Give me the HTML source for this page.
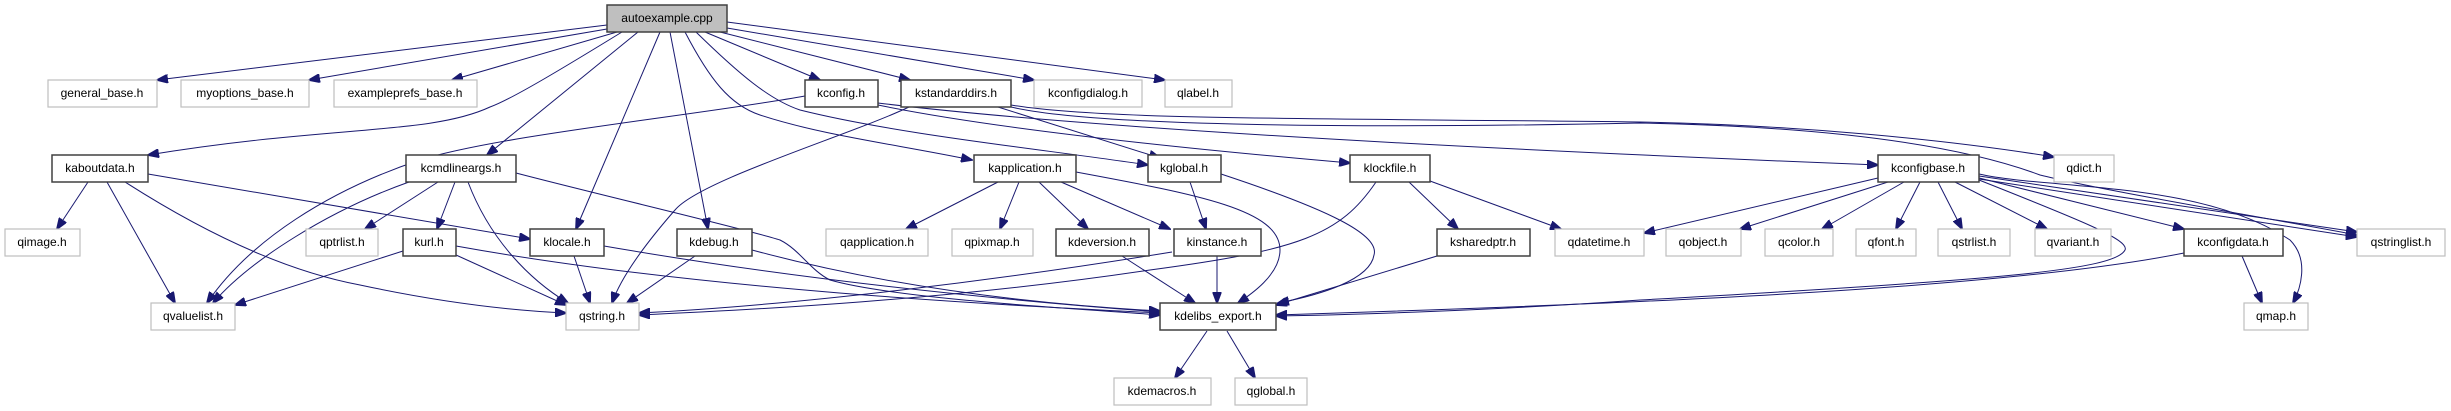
<!DOCTYPE html>
<html><head><meta charset="utf-8"><style>
html,body{margin:0;padding:0;background:#fff;}
svg{display:block;}
text{font-family:"Liberation Sans",Arial,sans-serif;font-size:12px;fill:#000;}
.b{fill:#fff;stroke:#404040;stroke-width:1.5;}
.l{fill:#fff;stroke:#bfbfbf;stroke-width:1.2;}
.e{fill:none;stroke:#191970;stroke-width:1;}
</style></head><body>
<svg width="2451" height="411" viewBox="0 0 2451 411" xmlns="http://www.w3.org/2000/svg">
<defs><marker id="a" markerWidth="12" markerHeight="9" refX="11" refY="4.5" orient="auto" markerUnits="userSpaceOnUse"><path d="M0,0 L12,4.5 L0,9 z" fill="#191970" stroke="#191970"/></marker></defs>
<g class="e" marker-end="url(#a)">
<path d="M607,25 L157,80"/>
<path d="M607,29 L309,80"/>
<path d="M617,32 L452,80"/>
<path d="M622,32 C560,70 510,100 490,107 C430,135 330,125 148,155"/>
<path d="M638,32 L487,155"/>
<path d="M660,32 L576,229"/>
<path d="M670,32 L708,229"/>
<path d="M685,32 C710,80 730,105 760,115 C820,135 900,145 972,160"/>
<path d="M696,32 C740,75 770,100 800,110 C900,135 1050,150 1148,165"/>
<path d="M705,32 L820,80"/>
<path d="M720,32 L910,80"/>
<path d="M727,28 L1034,80"/>
<path d="M727,22 L1165,80"/>
<path d="M805,96 C700,115 500,135 420,160 C330,190 250,240 207,303"/>
<path d="M878,105 C1000,130 1200,150 1350,163"/>
<path d="M878,103 C1100,130 1500,150 1878,165"/>
<path d="M1011,105 C1100,120 1300,118 1640,122 C1800,125 1950,140 2054,157"/>
<path d="M1011,107 C1100,128 1400,128 1640,123 C1900,128 2000,160 2040,175 C2100,190 2250,215 2357,235"/>
<path d="M998,107 L1160,158"/>
<path d="M909,107 C850,135 700,180 675,210 C640,250 620,280 612,303"/>
<path d="M88,182 L57,229"/>
<path d="M107,182 L175,303"/>
<path d="M125,182 C200,230 280,270 360,285 C430,300 500,310 566,313"/>
<path d="M148,174 L530,239"/>
<path d="M409,182 C330,210 250,260 213,303"/>
<path d="M438,182 L365,229"/>
<path d="M455,182 L437,229"/>
<path d="M468,182 C490,240 530,280 568,303"/>
<path d="M516,173 C600,195 750,230 780,240 C800,250 810,270 830,280 C900,300 1100,310 1160,315"/>
<path d="M403,251 L235,305"/>
<path d="M456,255 L566,305"/>
<path d="M456,246 C700,290 1000,305 1160,313"/>
<path d="M574,256 L590,303"/>
<path d="M604,246 C800,280 1000,300 1160,312"/>
<path d="M695,256 L627,303"/>
<path d="M752,250 C900,290 1050,305 1160,311"/>
<path d="M998,182 L906,229"/>
<path d="M1019,182 L1000,229"/>
<path d="M1039,182 L1088,229"/>
<path d="M1061,182 L1170,229"/>
<path d="M1076,172 C1200,195 1280,210 1280,250 C1280,275 1250,295 1238,303"/>
<path d="M1190,182 L1206,229"/>
<path d="M1221,174 C1330,210 1380,235 1374,255 C1370,280 1320,295 1278,303"/>
<path d="M1376,182 C1340,235 1300,250 1150,270 C950,300 750,310 639,315"/>
<path d="M1409,182 L1458,229"/>
<path d="M1430,181 L1561,229"/>
<path d="M1172,252 C1000,280 800,305 639,313"/>
<path d="M1217,256 L1217,303"/>
<path d="M1122,256 L1195,303"/>
<path d="M1437,256 L1276,305"/>
<path d="M1207,331 L1175,378"/>
<path d="M1227,331 L1255,378"/>
<path d="M1878,178 L1644,233"/>
<path d="M1888,182 L1740,229"/>
<path d="M1904,182 L1822,229"/>
<path d="M1920,182 L1896,229"/>
<path d="M1938,182 L1962,229"/>
<path d="M1955,182 L2047,229"/>
<path d="M1979,178 L2184,229"/>
<path d="M1979,176 L2357,232"/>
<path d="M1979,179 L2357,237"/>
<path d="M1979,174 C2050,190 2200,180 2290,240 C2310,260 2300,290 2293,303"/>
<path d="M1979,180 C2080,220 2130,240 2125,250 C2115,270 2000,280 1640,300 C1500,310 1350,315 1276,316"/>
<path d="M2184,253 C2000,290 1600,305 1276,315"/>
<path d="M2242,256 L2262,303"/>
</g>
<g>
<rect x="607" y="5" width="120" height="27" fill="#bfbfbf" stroke="#404040" stroke-width="1.5"/><text x="667" y="22" text-anchor="middle">autoexample.cpp</text>
<rect class="l" x="48" y="80" width="109" height="27"/><text x="102" y="97" text-anchor="middle">general_base.h</text>
<rect class="l" x="181" y="80" width="128" height="27"/><text x="245" y="97" text-anchor="middle">myoptions_base.h</text>
<rect class="l" x="334" y="80" width="143" height="27"/><text x="405" y="97" text-anchor="middle">exampleprefs_base.h</text>
<rect class="b" x="805" y="80" width="73" height="27"/><text x="841" y="97" text-anchor="middle">kconfig.h</text>
<rect class="b" x="901" y="80" width="110" height="27"/><text x="956" y="97" text-anchor="middle">kstandarddirs.h</text>
<rect class="l" x="1034" y="80" width="108" height="27"/><text x="1088" y="97" text-anchor="middle">kconfigdialog.h</text>
<rect class="l" x="1165" y="80" width="67" height="27"/><text x="1198" y="97" text-anchor="middle">qlabel.h</text>
<rect class="b" x="52" y="155" width="96" height="27"/><text x="100" y="172" text-anchor="middle">kaboutdata.h</text>
<rect class="b" x="406" y="155" width="110" height="27"/><text x="461" y="172" text-anchor="middle">kcmdlineargs.h</text>
<rect class="b" x="974" y="155" width="102" height="27"/><text x="1025" y="172" text-anchor="middle">kapplication.h</text>
<rect class="b" x="1148" y="155" width="73" height="27"/><text x="1184" y="172" text-anchor="middle">kglobal.h</text>
<rect class="b" x="1350" y="155" width="80" height="27"/><text x="1390" y="172" text-anchor="middle">klockfile.h</text>
<rect class="b" x="1878" y="155" width="101" height="27"/><text x="1928" y="172" text-anchor="middle">kconfigbase.h</text>
<rect class="l" x="2054" y="155" width="60" height="27"/><text x="2084" y="172" text-anchor="middle">qdict.h</text>
<rect class="l" x="5" y="229" width="75" height="27"/><text x="42" y="246" text-anchor="middle">qimage.h</text>
<rect class="l" x="306" y="229" width="72" height="27"/><text x="342" y="246" text-anchor="middle">qptrlist.h</text>
<rect class="b" x="403" y="229" width="53" height="27"/><text x="429" y="246" text-anchor="middle">kurl.h</text>
<rect class="b" x="530" y="229" width="74" height="27"/><text x="567" y="246" text-anchor="middle">klocale.h</text>
<rect class="b" x="677" y="229" width="75" height="27"/><text x="714" y="246" text-anchor="middle">kdebug.h</text>
<rect class="l" x="826" y="229" width="102" height="27"/><text x="877" y="246" text-anchor="middle">qapplication.h</text>
<rect class="l" x="952" y="229" width="81" height="27"/><text x="992" y="246" text-anchor="middle">qpixmap.h</text>
<rect class="b" x="1056" y="229" width="93" height="27"/><text x="1102" y="246" text-anchor="middle">kdeversion.h</text>
<rect class="b" x="1174" y="229" width="87" height="27"/><text x="1217" y="246" text-anchor="middle">kinstance.h</text>
<rect class="b" x="1437" y="229" width="93" height="27"/><text x="1483" y="246" text-anchor="middle">ksharedptr.h</text>
<rect class="l" x="1555" y="229" width="89" height="27"/><text x="1599" y="246" text-anchor="middle">qdatetime.h</text>
<rect class="l" x="1666" y="229" width="75" height="27"/><text x="1703" y="246" text-anchor="middle">qobject.h</text>
<rect class="l" x="1765" y="229" width="68" height="27"/><text x="1799" y="246" text-anchor="middle">qcolor.h</text>
<rect class="l" x="1856" y="229" width="60" height="27"/><text x="1886" y="246" text-anchor="middle">qfont.h</text>
<rect class="l" x="1938" y="229" width="72" height="27"/><text x="1974" y="246" text-anchor="middle">qstrlist.h</text>
<rect class="l" x="2035" y="229" width="76" height="27"/><text x="2073" y="246" text-anchor="middle">qvariant.h</text>
<rect class="b" x="2184" y="229" width="99" height="27"/><text x="2233" y="246" text-anchor="middle">kconfigdata.h</text>
<rect class="l" x="2357" y="229" width="88" height="27"/><text x="2401" y="246" text-anchor="middle">qstringlist.h</text>
<rect class="l" x="151" y="303" width="84" height="27"/><text x="193" y="320" text-anchor="middle">qvaluelist.h</text>
<rect class="l" x="566" y="303" width="73" height="27"/><text x="602" y="320" text-anchor="middle">qstring.h</text>
<rect class="b" x="1160" y="303" width="116" height="27"/><text x="1218" y="320" text-anchor="middle">kdelibs_export.h</text>
<rect class="l" x="2244" y="303" width="64" height="27"/><text x="2276" y="320" text-anchor="middle">qmap.h</text>
<rect class="l" x="1114" y="378" width="97" height="27"/><text x="1162" y="395" text-anchor="middle">kdemacros.h</text>
<rect class="l" x="1235" y="378" width="72" height="27"/><text x="1271" y="395" text-anchor="middle">qglobal.h</text>
</g>
</svg>
</body></html>
